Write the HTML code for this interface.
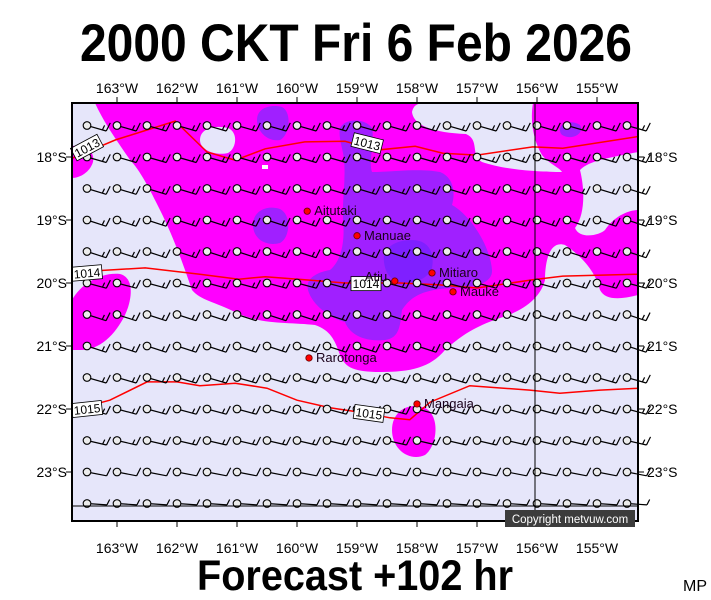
<!DOCTYPE html>
<html><head><meta charset="utf-8"><style>
html,body{margin:0;padding:0;background:#fff;}
svg{display:block;font-family:"Liberation Sans",sans-serif;}
</style></head><body>
<svg id="chart" width="711" height="600" viewBox="0 0 711 600" xmlns="http://www.w3.org/2000/svg">
<text x="356" y="61" text-anchor="middle" font-size="53" font-weight="bold" textLength="552" lengthAdjust="spacingAndGlyphs">2000 CKT Fri 6 Feb 2026</text>
<defs><clipPath id="mapclip"><rect x="72" y="103" width="566" height="418"/></clipPath></defs>
<g clip-path="url(#mapclip)">
<rect x="72" y="103" width="566" height="418" fill="#e6e6fa"/>
<path fill="#ff00ff" d="M95,103 L638,103 L638,152 C610,158 590,160 580,170 C585,190 585,215 575,228 C580,240 600,235 605,230 C615,215 630,210 638,210 L638,295 C620,300 605,300 600,290 C595,270 580,255 565,245 C550,240 545,260 545,280 C540,300 520,312 500,318 C480,325 465,332 445,350 C430,368 410,372 380,372 C355,372 345,368 340,355 C335,340 330,330 315,325 C290,322 260,325 235,312 C215,302 200,300 192,290 C185,270 175,240 160,210 C150,190 140,170 130,160 C120,145 105,125 95,103 Z"/>
<path fill="#ff00ff" d="M72,146 C85,145 95,150 93,162 C90,172 80,178 72,178 Z"/>
<path fill="#ff00ff" d="M72,300 C80,285 100,272 120,274 C135,278 132,300 125,315 C115,335 100,350 80,350 L72,350 Z"/>
<path fill="#ff00ff" d="M392,430 C392,410 410,402 425,408 C440,415 438,445 425,455 C410,462 392,450 392,430 Z"/>
<path fill="#e6e6fa" d="M412,112 C414,103 420,103 430,103 L533,103 C530,120 533,140 542,155 C548,163 560,168 562,172 C540,172 505,170 482,162 C470,155 480,140 466,134 C440,133 414,128 412,112 Z"/>
<path fill="#e6e6fa" d="M200,140 C200,128 215,125 228,128 C238,132 237,148 228,153 C215,156 200,150 200,140 Z"/>
<rect x="262" y="165" width="6" height="4" fill="#ffffff"/>
<path fill="#a020ff" d="M257,120 C257,108 270,104 282,107 C292,112 290,135 280,140 C268,142 257,132 257,120 Z"/>
<path fill="#a020ff" d="M560,130 C560,122 572,120 580,125 C584,132 576,138 568,137 C562,136 560,134 560,130 Z"/>
<path fill="#a020ff" d="M253,225 C253,210 268,205 280,209 C292,215 290,238 280,243 C265,247 253,238 253,225 Z"/>
<path fill="#a020ff" d="M340,128 C345,118 365,118 372,128 C375,145 368,160 372,172 C390,172 420,168 440,172 C455,178 455,195 452,205 C470,215 490,245 492,270 C493,285 470,288 450,288 C420,290 410,298 402,310 C400,325 400,338 385,340 C365,342 350,335 345,322 C330,318 312,305 308,290 C305,278 318,272 330,270 C342,260 345,240 343,220 C342,200 346,180 344,160 C343,148 338,138 340,128 Z"/>
<path fill="#7f20ff" d="M384,262 C382,248 395,240 412,240 C428,240 435,252 432,268 C428,280 410,285 398,282 C388,278 385,270 384,262 Z"/>
</g>
<g id="lines" clip-path="url(#mapclip)"></g>
<g id="barbs"></g>
<g id="labels"></g>
<g id="islands"></g>
<line x1="535" y1="103" x2="535" y2="521" stroke="#000" stroke-width="1"/>
<line x1="72" y1="506" x2="638" y2="506" stroke="#000" stroke-width="1"/>
<rect x="72" y="103" width="566" height="418" fill="none" stroke="#000" stroke-width="2"/>
<g id="axes"></g>
<rect x="505" y="510" width="130" height="17" fill="#3c3c3c"/>
<text x="570" y="523" text-anchor="middle" font-size="11.5" fill="#ffffff">Copyright metvuw.com</text>
<text x="355" y="590" text-anchor="middle" font-size="43" font-weight="bold" textLength="316" lengthAdjust="spacingAndGlyphs">Forecast +102 hr</text>
<text x="683" y="591" font-size="16">MP</text>
</svg>
<script>
// Axis data
const lonTicks = [163,162,161,160,159,158,157,156,155];
const latTicks = [18,19,20,21,22,23];
// Isobars (longitude °W, latitude °S)
const isoLevels = ["1013","1014","1015"];
const iso1013Lon = [163.75,163.03,162.03,161.5,161.03,160.53,159.87,159.2,158.67,158.03,157.57,157.0,156.07,155.57,154.28];
const iso1013Lat = [18.02,17.73,17.43,17.92,18.05,17.87,17.76,17.75,17.89,17.83,17.94,17.97,17.84,17.86,17.67];
const iso1014Lon = [163.75,162.53,161.62,160.97,160.53,159.87,159.2,158.28,157.62,157.0,156.07,155.57,154.28];
const iso1014Lat = [19.83,19.76,19.86,19.94,19.90,19.95,20.0,20.0,20.03,20.08,19.95,19.89,19.86];
const iso1015Lon = [163.75,163.12,162.5,162.0,161.62,161.03,160.5,160.0,159.45,158.95,158.45,158.12,157.78,157.12,156.12,155.62,154.95,154.28];
const iso1015Lat = [22.02,21.86,21.57,21.57,21.63,21.59,21.67,21.86,21.98,22.05,22.14,22.17,21.89,21.63,21.70,21.75,21.70,21.67];
const isoLabelLon = [163.5,158.83,163.5,158.85,163.5,158.8];
const isoLabelLat = [17.85,17.78,19.84,20.01,22.0,22.07];
const isoLabelText = ["1013","1013","1014","1014","1015","1015"];
const isoLabelRot = [-28,14,-5,0,-6,8];
// Islands
const islandNames = ["Aitutaki","Manuae","Atiu","Mitiaro","Mauke","Rarotonga","Mangaia"];
const islandLon = [159.83,159.0,158.37,157.75,157.4,159.8,158.0];
const islandLat = [18.86,19.25,19.97,19.84,20.14,21.19,21.92];
const islandLabelLeft = [false,false,true,false,false,false,false];
// Wind barb grid (per row)
const barbLat = [17.5,18,18.5,19,19.5,20,20.5,21,21.5,22,22.5,23,23.5];
const barbLon = [163.5,163,162.5,162,161.5,161,160.5,160,159.5,159,158.5,158,157.5,157,156.5,156,155.5,155,154.5];
const barbAngle = [16,16,17,18,18,15,18,18,16,15,13,11,4];
const barbSpeed = [15,15,15,15,15,15,17,17,17,16,15,12,8];

const NS="http://www.w3.org/2000/svg";
function xS(lon){return 117+(163-lon)*60;}
function yS(lat){return 157+(lat-18)*63;}
function mk(tag,attrs,parent){const e=document.createElementNS(NS,tag);for(const k in attrs)e.setAttribute(k,attrs[k]);parent.appendChild(e);return e;}

const axes=document.getElementById('axes');
lonTicks.forEach(function(l){
  const x=xS(l);
  const t1=mk('line',{x1:x,y1:97,x2:x,y2:103,stroke:'#000'},axes);
  
  
  const t2=mk('line',{x1:x,y1:521,x2:x,y2:527,stroke:'#000'},axes);
  
  
  const a=mk('text',{x:x,y:93,'text-anchor':'middle','font-size':'14'},axes);a.textContent=l+'°W';
  
  
  const b=mk('text',{x:x,y:553,'text-anchor':'middle','font-size':'14'},axes);b.textContent=l+'°W';
  
  
});
latTicks.forEach(function(l){
  const y=yS(l);
  const t1=mk('line',{x1:66,y1:y,x2:72,y2:y,stroke:'#000'},axes);
  
  
  const t2=mk('line',{x1:638,y1:y,x2:644,y2:y,stroke:'#000'},axes);
  
  
  const a=mk('text',{x:67,y:y+5,'text-anchor':'end','font-size':'14'},axes);a.textContent=l+'°S';
  
  
  const b=mk('text',{x:647,y:y+5,'font-size':'14'},axes);b.textContent=l+'°S';
  
  
});

const lines=document.getElementById('lines');
[[iso1013Lon,iso1013Lat],[iso1014Lon,iso1014Lat],[iso1015Lon,iso1015Lat]].forEach(function(s,i){
  const pts=s[0].map(function(lo,j){return xS(lo).toFixed(1)+','+yS(s[1][j]).toFixed(1);}).join(' ');
  const p=mk('polyline',{points:pts,fill:'none',stroke:'#ff0000','stroke-width':'1.5'},lines);
  
  
});

const barbs=document.getElementById('barbs');
barbLat.forEach(function(la,r){
  barbLon.forEach(function(lo){
    const cx=xS(lo), cy=yS(la);
    const ang=barbAngle[r]*Math.PI/180, len=20;
    const ex=cx+len*Math.cos(ang), ey=cy+len*Math.sin(ang);
    const g=mk('g',{},barbs);
    
    
    mk('line',{x1:cx,y1:cy,x2:ex,y2:ey,stroke:'#000','stroke-width':'1.2'},g);
    const bl=barbSpeed[r]>=10?9:6;
    mk('line',{x1:ex,y1:ey,x2:ex+bl*0.45,y2:ey-bl*0.9,stroke:'#000','stroke-width':'1.2'},g);
    if(barbSpeed[r]%10>=5 && barbSpeed[r]>=15){
      const hx=cx+(len-4)*Math.cos(ang), hy=cy+(len-4)*Math.sin(ang);
      mk('line',{x1:hx,y1:hy,x2:hx+2.2,y2:hy-4.5,stroke:'#000','stroke-width':'1.2'},g);
    }
    mk('circle',{cx:cx,cy:cy,r:3.8,fill:'#ececec',stroke:'#000','stroke-width':'1.1'},g);
  });
});

const isl=document.getElementById('islands');
islandNames.forEach(function(n,i){
  const x=xS(islandLon[i]), y=yS(islandLat[i]);
  const c=mk('circle',{cx:x,cy:y,r:3.2,fill:'#ff0000',stroke:'#600','stroke-width':'0.8'},isl);
  
  
  const t=mk('text',{x:islandLabelLeft[i]?x-30:x+7,y:islandLabelLeft[i]?y:y+4,'font-size':'13',fill:'#1a001a'},isl);
  t.textContent=n;
  
  
});

const labs=document.getElementById('labels');
isoLabelText.forEach(function(s,i){
  const x=xS(isoLabelLon[i]), y=yS(isoLabelLat[i]);
  const g=mk('g',{transform:'translate('+x+','+y+') rotate('+isoLabelRot[i]+')'},labs);
  
  
  mk('rect',{x:-15,y:-7,width:30,height:14,fill:'#fff',stroke:'#000','stroke-width':'0.8'},g);
  const t=mk('text',{x:0,y:4.5,'text-anchor':'middle','font-size':'12'},g);t.textContent=s;
});
</script>
</body></html>
